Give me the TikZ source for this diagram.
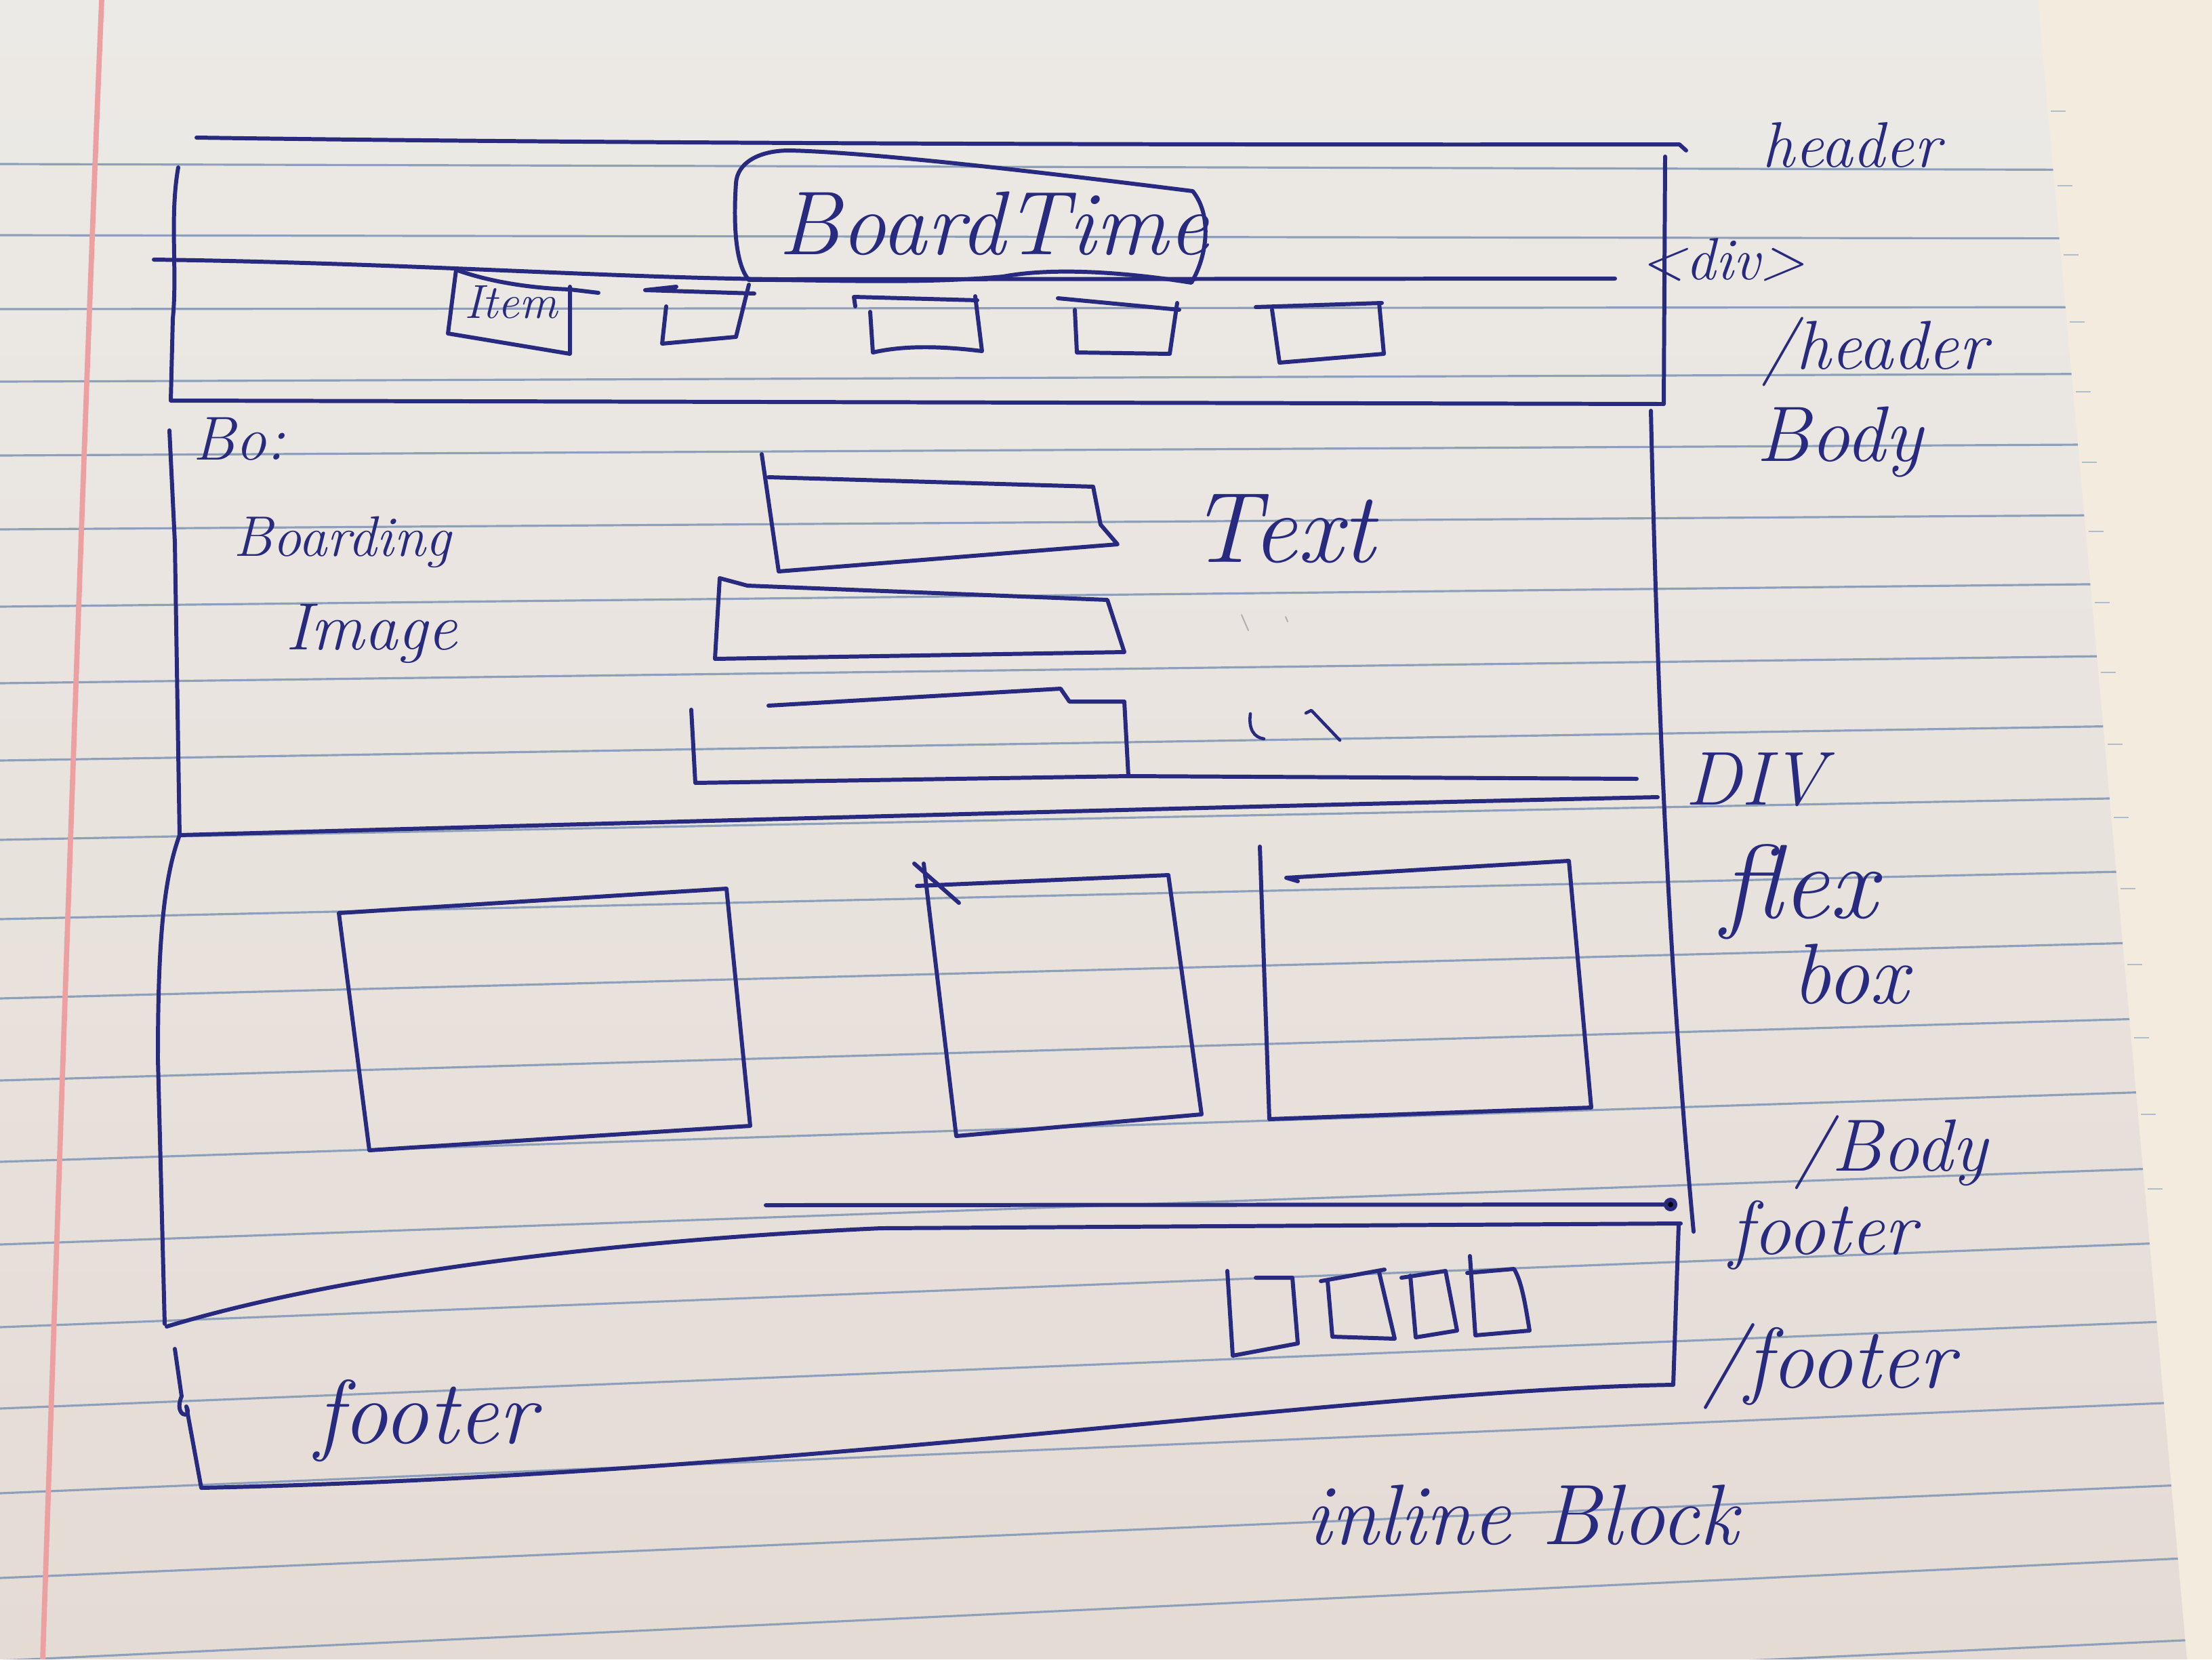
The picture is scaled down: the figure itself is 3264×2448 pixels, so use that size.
\documentclass[tikz,border=0pt]{standalone}
\begin{document}
\definecolor{ink}{RGB}{40,42,128}
\definecolor{rulec}{RGB}{140,160,188}
\definecolor{marginc}{RGB}{236,160,162}
\definecolor{papertop}{RGB}{236,234,230}
\definecolor{paperbot}{RGB}{229,219,213}
\definecolor{under}{RGB}{242,235,222}
\begin{tikzpicture}[x=0.01cm,y=-0.01cm,
  ink/.style={draw=ink, line width=1.7pt, line cap=round, line join=round},
  thin ink/.style={draw=ink, line width=1.3pt, line cap=round, line join=round},
  hand/.style={text=ink, font=\itshape, inner sep=0pt},
  ruling/.style={draw=rulec, line width=0.9pt},
]
\useasboundingbox (0,0) rectangle (3264,2448);

% --- sheet underneath and the ruled sheet on top ---
\fill[under] (0,0) rectangle (3264,2448);
\foreach \yy in {164,274,376,475,578,682,784,889,992,1098,1206,1311,1423,1531,1644,1754}{
  \pgfmathsetmacro{\ex}{3007+0.0899*\yy}
  \draw[rulec!70, line width=0.8pt] (\ex+4,\yy) -- (\ex+26,\yy);
}
\shade[top color=papertop, bottom color=paperbot]
  (0,0) -- (3007,0) -- (3227,2448) -- (0,2448) -- cycle;
\begin{scope}
  \clip (0,0) -- (3007,0) -- (3227,2448) -- (0,2448) -- cycle;
  \foreach \a/\b in {242/251,347/352,456/453,563/551,672/655,781/759,895/860,
      1008/966,1122/1069,1239/1175,1356/1283,1473/1388,1594/1500,1714/1608,
      1836/1721,1958/1831,2078/1947,2203/2067,2328/2189,2450/2297,2570/2418}{
    \draw[ruling] (0,\a) -- (3264,\b);
  }
  \draw[marginc, line width=2.2pt] (150,0) .. controls (125,600) and (95,1500) .. (63,2448);
\end{scope}

% --- header block ---
\draw[ink] (290,203) .. controls (900,212) and (1800,214) .. (2478,213) -- (2488,222);
\draw[ink] (263,247) .. controls (250,320) and (262,400) .. (255,470) -- (252,591) -- (2455,596) -- (2457,231);
\draw[ink] (227,383) .. controls (600,388) and (900,410) .. (1150,412) -- (2383,411);

% title box
\draw[ink] (1105,413) .. controls (1085,390) and (1082,330) .. (1086,270)
  .. controls (1088,240) and (1120,222) .. (1165,222)
  .. controls (1300,225) and (1600,262) .. (1760,282)
  .. controls (1790,320) and (1780,380) .. (1758,417)
  .. controls (1650,400) and (1550,395) .. (1480,408)
  .. controls (1350,420) and (1200,412) .. (1105,413);
\node[hand, font=\itshape\fontsize{38}{40}\selectfont] (title) at (1466,330) {BoardTime};

% navigation boxes
\draw[ink] (673,398) .. controls (720,415) and (780,425) .. (841,427) -- (883,432);
\draw[ink] (673,398) -- (661,492) -- (841,522) -- (841,423);
\node[hand, font=\itshape\fontsize{20}{22}\selectfont] (item) at (754,446) {Item};
\draw[ink] (998,423) -- (952,428) -- (1113,433);
\draw[ink] (983,452) -- (977,507) -- (1086,497) -- (1105,420);
\draw[ink] (1262,452) -- (1260,438) -- (1442,443);
\draw[ink] (1284,460) -- (1288,520) .. controls (1340,508) and (1400,512) .. (1449,518) -- (1439,437);
\draw[ink] (1561,440) -- (1740,457);
\draw[ink] (1586,457) -- (1589,520) -- (1726,522) -- (1737,447);
\draw[ink] (1853,453) -- (2039,447);
\draw[ink] (1877,457) -- (1888,535) -- (2042,522) -- (2035,447);

% --- body block ---
\draw[ink] (250,635) -- (258,800) -- (265,1232) .. controls (240,1300) and (233,1400) .. (233,1562) -- (243,1953);
\draw[ink] (2436,606) .. controls (2445,1000) and (2460,1400) .. (2499,1817);
\node[hand, font=\itshape\fontsize{26}{28}\selectfont] (bo) at (353,648) {Bo:};
\node[hand, font=\itshape\fontsize{24}{26}\selectfont] (boarding) at (505,800) {Boarding};
\node[hand, font=\itshape\fontsize{28}{30}\selectfont] (image) at (548,935) {Image};

% text rows
\draw[ink] (1124,670) -- (1149,843) -- (1649,803) -- (1624,774) -- (1613,718) -- (1134,704);
\draw[ink] (1062,853) -- (1103,864) -- (1634,885) -- (1659,962) -- (1055,972) -- (1062,853);
\draw[ink] (1134,1041) -- (1565,1016) -- (1578,1035) -- (1659,1035) -- (1665,1145);
\draw[ink] (1020,1047) -- (1026,1155) -- (1665,1145) -- (2415,1149);
\node[hand, font=\itshape\fontsize{42}{44}\selectfont] (text) at (1892,780) {Text};
\draw[gray!60, line width=0.6pt, line cap=round] (1832,907) -- (1842,930);
\draw[gray!60, line width=0.6pt, line cap=round] (1897,910) -- (1900,917);
\draw[thin ink] (1845,1053) .. controls (1842,1075) and (1850,1088) .. (1865,1090);
\draw[thin ink] (1927,1052) -- (1935,1048) -- (1977,1092);

% section divider
\draw[ink] (265,1232) .. controls (900,1215) and (1800,1190) .. (2446,1176);

% flex items
\draw[ink] (500,1347) -- (1072,1311) -- (1107,1661) -- (545,1697) -- cycle;
\draw[ink] (1349,1274) -- (1415,1332);
\draw[ink] (1353,1307) -- (1724,1291) -- (1773,1644) -- (1411,1676) -- (1363,1274);
\draw[ink] (1859,1249) -- (1873,1651) -- (2348,1634) -- (2315,1270) -- (1898,1295) -- (1915,1300);

% body bottom
\draw[ink] (246,1957) .. controls (500,1880) and (900,1830) .. (1300,1812) -- (2480,1805);
\draw[ink] (1130,1778) -- (2465,1777);
\fill[ink] (2465,1777) circle (7);

% --- footer block ---
\draw[ink] (258,1990) -- (268,2060) .. controls (255,2090) and (285,2095) .. (275,2075) -- (297,2195)
  .. controls (1200,2175) and (2000,2050) .. (2469,2043) -- (2477,1807);
\node[hand, font=\itshape\fontsize{38}{40}\selectfont] (footl) at (628,2096) {footer};
\draw[ink] (1853,1885) -- (1907,1885) -- (1915,1982) -- (1819,2000) -- (1811,1875);
\draw[ink] (1949,1890) -- (2043,1873);
\draw[ink] (1959,1890) -- (1966,1972) -- (2058,1975) -- (2035,1877);
\draw[ink] (2068,1885) -- (2133,1875) -- (2150,1963) -- (2089,1973) -- (2081,1882);
\draw[ink] (2169,1853) -- (2177,1970) -- (2257,1963) .. controls (2250,1920) and (2245,1890) .. (2234,1872) -- (2165,1878);

% --- annotations on the right ---
\node[hand, font=\itshape\fontsize{27}{29}\selectfont] (aheader) at (2732,214) {header};
\node[hand, font=\itshape\fontsize{25}{27}\selectfont] (adiv) at (2542,383) {<div>};
\node[hand, font=\itshape\fontsize{29}{31}\selectfont] (aheaderend) at (2766,519) {/header};
\node[hand, font=\itshape\fontsize{33}{35}\selectfont] (abody) at (2714,652) {Body};
\node[hand, font=\itshape\fontsize{32}{34}\selectfont] (aDIV) at (2590,1150) {DIV};
\node[hand, font=\itshape\fontsize{44}{46}\selectfont] (aflex) at (2655,1316) {flex};
\node[hand, font=\itshape\fontsize{36}{38}\selectfont] (abox) at (2730,1437) {box};
\node[hand, font=\itshape\fontsize{31}{33}\selectfont] (abodyend) at (2790,1700) {/Body};
\node[hand, font=\itshape\fontsize{32}{34}\selectfont] (afooter) at (2690,1822) {footer};
\node[hand, font=\itshape\fontsize{36}{38}\selectfont] (afooterend) at (2698,2016) {/footer};
\node[hand, font=\itshape\fontsize{36}{38}\selectfont] (ainline) at (2245,2235) {inline Block};
\end{tikzpicture}
\end{document}
